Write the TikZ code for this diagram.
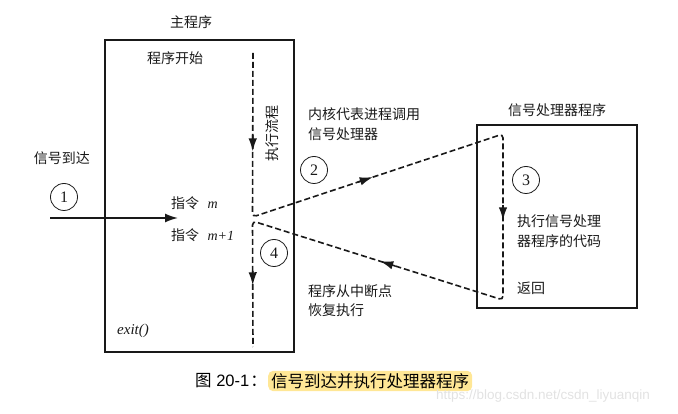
\documentclass[tikz,border=0pt]{standalone}
\usepackage{fontspec}
\setmainfont{Liberation Serif}
\newfontfamily\cjk{Noto Sans CJK SC}
\newfontfamily\capfont{Liberation Sans}
\usetikzlibrary{arrows.meta,calc}
\definecolor{hl}{RGB}{255,231,150}
\definecolor{wm}{RGB}{226,226,226}
\definecolor{ink}{RGB}{25,25,25}
\begin{document}
\begin{tikzpicture}[x=1pt,y=-1pt,
  box/.style={draw=ink, line width=1.4pt, inner sep=0pt, outer sep=0pt},
  zh/.style={font=\cjk\fontsize{14}{16}\selectfont, text=ink, inner sep=0pt},
  num/.style={draw=ink, circle, minimum size=27pt, inner sep=0pt, line width=0.8pt, text=ink, font=\fontsize{16}{16}\selectfont},
  flow/.style={draw=ink, line width=1.6pt, dash pattern=on 6pt off 3pt, rounded corners=4pt},
  midarrow/.style={draw=ink, line width=1.6pt, -{Latex[length=13pt,width=8.5pt]}},
  lat/.style={font=\itshape\fontsize{15}{16}\selectfont, text=ink, inner sep=0pt}
]
\useasboundingbox (0,0) rectangle (678,414);

% boxes
\node[box, minimum width=189pt, minimum height=312pt, anchor=north west] (main) at (105,40) {};
\node[box, minimum width=160pt, minimum height=183pt, anchor=north west] (handler) at (477,125) {};

% titles
\node[zh] (maintitle) at (191,22) {主程序};
\node[zh] (handtitle) at (557,110) {信号处理器程序};
\node[zh] (start) at (175,58) {程序开始};
\node[zh, rotate=90] (flowlbl) at (272,134) {执行流程};
\node[zh] (arrive) at (62,158) {信号到达};

% instructions
\node[zh, anchor=west] (instm) at (171,203) {指令\hspace{0.6em}{\fontspec{Liberation Serif}\itshape m}};
\node[zh, anchor=west] (instm1) at (171,235) {指令\hspace{0.6em}{\fontspec{Liberation Serif}\itshape m+1}};
\node[lat] (exit) at (133,331) {exit()};

% explanatory texts
\node[zh, anchor=west] (k1) at (308,114) {内核代表进程调用};
\node[zh, anchor=west] (k2) at (308,134) {信号处理器};
\node[zh, anchor=west] (r1) at (308,291) {程序从中断点};
\node[zh, anchor=west] (r2) at (308,310) {恢复执行};
\node[zh, anchor=west] (h1) at (517,221) {执行信号处理};
\node[zh, anchor=west] (h2) at (517,241) {器程序的代码};
\node[zh, anchor=west] (ret) at (517,288) {返回};

% numbered circles
\node[num] (n1) at (64,197) {1};
\node[num] (n2) at (314,170) {2};
\node[num] (n3) at (526,180) {3};
\node[num] (n4) at (274,253) {4};

% signal arrow
\coordinate (sigstart) at (50,218);
\coordinate (sigend) at (178,218);
\draw[draw=ink, line width=1.6pt, -{Latex[length=13pt,width=9pt]}] (sigstart) -- (sigend);

% execution flow
\coordinate (ftop) at (253,53);
\coordinate (kinka) at (252.5,217);
\coordinate (cornera) at (503,134);
\coordinate (cornerb) at (503,300);
\coordinate (kinkb) at (252.5,221);
\coordinate (fbot) at (253,347);
\draw[flow] (ftop) -- (kinka) -- (cornera) -- (cornerb) -- (kinkb) -- (fbot);

% arrowheads along the flow
\draw[midarrow] ($(ftop)!0.50!(kinka)$) -- ($(ftop)!0.60!(kinka)$);
\draw[midarrow] ($(kinka)!0.42!(cornera)$) -- ($(kinka)!0.48!(cornera)$);
\draw[midarrow] ($(cornera)!0.43!(cornerb)$) -- ($(cornera)!0.52!(cornerb)$);
\draw[midarrow] ($(cornerb)!0.43!(kinkb)$) -- ($(cornerb)!0.49!(kinkb)$);
\draw[midarrow] ($(kinkb)!0.40!(fbot)$) -- ($(kinkb)!0.51!(fbot)$);

% caption
\node[font=\capfont\fontsize{16.5}{18}\selectfont, anchor=east, inner sep=0pt] (figno) at (267,381) {{\cjk 图} 20-1\kern1pt{\cjk ：}};
\node[font=\cjk\fontsize{16.5}{18}\selectfont, anchor=west, fill=hl, rounded corners=5pt, inner xsep=3pt, inner ysep=2.5pt] (captext) at (268,381) {信号到达并执行处理器程序};

% watermark
\node[font=\capfont\fontsize{13.5}{15}\selectfont, text=wm, inner sep=0pt] (wmark) at (543,396) {https://blog.csdn.net/csdn\_liyuanqin};
\end{tikzpicture}
\end{document}
